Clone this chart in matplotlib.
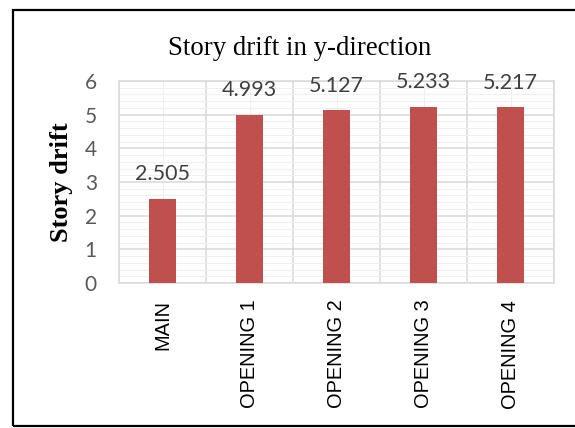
import matplotlib
matplotlib.use('Agg')
import matplotlib.pyplot as plt
from matplotlib.patches import Rectangle
from matplotlib.ticker import MultipleLocator
import numpy as np

cases = ['MAIN', 'OPENING 1', 'OPENING 2', 'OPENING 3', 'OPENING 4']
drift = [2.505, 4.993, 5.127, 5.233, 5.217]
value_labels = ['2.505', '4.993', '5.127', '5.233', '5.217']
y_ticks = [0, 1, 2, 3, 4, 5, 6]

bar_color = '#C0504D'
major_grid = '#D9D9D9'
minor_grid = '#EFEFEF'

fig = plt.figure(figsize=(5.75, 4.28), dpi=100)
ax = fig.add_axes([0.2070, 0.3388, 0.7565, 0.4720])

x = np.arange(len(cases))
ax.bar(x, drift, width=0.31, color=bar_color, zorder=3)

ax.set_xlim(-0.5, len(cases) - 0.5)
ax.set_ylim(0, 6)

# y: integer gridlines plus faint fifths
ax.set_yticks(y_ticks)
ax.yaxis.set_minor_locator(MultipleLocator(0.2))
ax.grid(axis='y', which='major', color=major_grid, linewidth=1.1, zorder=1)
ax.grid(axis='y', which='minor', color=minor_grid, linewidth=0.8, zorder=0)

# x: labels at category centres, darker lines between categories
ax.set_xticks(x)
ax.set_xticklabels(cases, rotation=90, fontsize=14.4, family='Liberation Sans', color='black')
ax.set_xticks(np.arange(-0.5, len(cases)), minor=True)
ax.grid(axis='x', which='minor', color=major_grid, linewidth=1.1, zorder=1)
ax.grid(axis='x', which='major', color=minor_grid, linewidth=0.8, zorder=0)

ax.tick_params(axis='x', which='both', length=0, pad=12)
ax.tick_params(axis='y', which='both', length=0, pad=16, labelsize=15, labelcolor='#595959')
for lbl in ax.get_yticklabels():
    lbl.set_family('Lato')

for side in ['top', 'right', 'left', 'bottom']:
    ax.spines[side].set_color(major_grid)
    ax.spines[side].set_linewidth(1.1)

for xi, v, txt in zip(x, drift, value_labels):
    ax.annotate(txt, (xi, v), xytext=(0, 13.5), textcoords='offset points',
                ha='center', va='baseline', fontsize=15.5, family='Lato', color='#404040')

fig.text(0.5217, 0.8715, 'Story drift in y-direction', ha='center', va='baseline',
         fontsize=19.3, family='Liberation Serif', color='black')
fig.text(0.1078, 0.5748, 'Story drift', rotation=90, ha='center', va='center',
         fontsize=19, family='Liberation Serif', fontweight='bold', color='black')

# outer frame
fig.patches.append(Rectangle((12.5 / 575, 1 - 426.3 / 428), 1.1, (426.3 - 9.7) / 428,
                             transform=fig.transFigure, fill=False,
                             edgecolor='black', linewidth=1.6))

fig.savefig('out.png', dpi=100)
